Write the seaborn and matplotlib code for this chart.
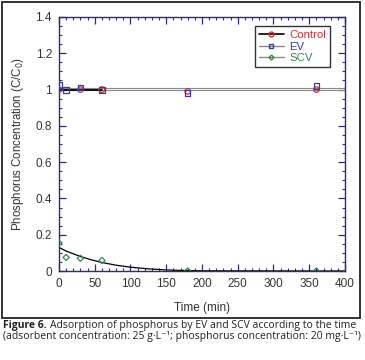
import numpy as np
import matplotlib
matplotlib.use("Agg")
import matplotlib.pyplot as plt
import seaborn as sns
from matplotlib.lines import Line2D
from matplotlib.patches import Rectangle

# measured points
control_t = [0, 30, 60, 180, 360]
control_c = [1.0, 1.0, 1.0, 0.99, 1.0]
ev_t = [0, 10, 30, 60, 180, 360]
ev_c = [1.025, 0.997, 1.012, 0.997, 0.98, 1.02]
scv_t = [0, 10, 30, 60, 180, 360]
scv_c = [0.155, 0.075, 0.07, 0.058, 0.0, 0.0]

# fitted curves
ctrl_fit_t = [0, 60]
ctrl_fit_c = [1.0, 1.0]
ev_fit_t = [0, 400]
ev_fit_c = [1.008, 1.008]
ev_fit2_c = [0.995, 0.995]
scv_fit_t = [0, 10, 20, 30, 45, 60, 80, 100, 125, 150, 175, 200, 400]
scv_fit_c = [0.13, 0.11, 0.095, 0.08, 0.062, 0.047, 0.032, 0.021, 0.012, 0.006, 0.003, 0.001, 0.0]

sns.set_style("ticks")
plt.rcParams['font.family'] = ['Liberation Sans', 'DejaVu Sans']

navy = '#2b2b80'
red = '#d03030'
blue = '#3a3aa8'
green = '#2f8a55'
txtc = '#333333'

fig = plt.figure(figsize=(3.65, 3.6), dpi=100)
ax = fig.add_axes([0.1616, 0.2472, 0.7836, 0.7056])

sns.lineplot(x=ev_fit_t, y=ev_fit_c, color='#8a8a8a', lw=0.8, ax=ax)
sns.lineplot(x=ev_fit_t, y=ev_fit2_c, color='#8a8a8a', lw=0.8, ax=ax)
sns.lineplot(x=ctrl_fit_t, y=ctrl_fit_c, color='black', lw=1.3, ax=ax)
sns.lineplot(x=scv_fit_t, y=scv_fit_c, color='black', lw=0.9, ax=ax)

sns.scatterplot(x=control_t, y=control_c, marker='o', s=16, facecolors='none',
                edgecolor=red, linewidth=0.9, ax=ax, zorder=3)
sns.scatterplot(x=ev_t, y=ev_c, marker='s', s=16, facecolors='none',
                edgecolor=blue, linewidth=0.9, ax=ax, zorder=3)
sns.scatterplot(x=scv_t, y=scv_c, marker='D', s=10, facecolors='none',
                edgecolor=green, linewidth=0.9, ax=ax, zorder=3)

ax.set_xlim(0, 400)
ax.set_ylim(0, 1.4)
ax.set_xticks(np.arange(0, 401, 50))
ax.set_xticks(np.arange(0, 401, 10), minor=True)
ax.set_yticks([0, 0.2, 0.4, 0.6, 0.8, 1, 1.2, 1.4])
ax.set_yticklabels(['0', '0.2', '0.4', '0.6', '0.8', '1', '1.2', '1.4'])
ax.set_yticks(np.arange(0, 1.401, 0.05), minor=True)
ax.tick_params(which='both', direction='in', top=True, right=True, color=navy,
               labelsize=8.5, labelcolor=txtc, pad=5)
ax.tick_params(which='major', length=5, width=0.9)
ax.tick_params(which='minor', length=2.5, width=0.8)
for s in ax.spines.values():
    s.set_color(navy)
    s.set_linewidth(1.0)

ax.set_xlabel('Time (min)', fontsize=8.5, color=txtc, labelpad=9)
ax.set_ylabel('Phosphorus Concentration (C/C$_0$)', fontsize=8.3, color=txtc, labelpad=7)

handles = [
    Line2D([], [], color='black', lw=1.2, marker='o', ms=3.5, mfc='none', mec=red),
    Line2D([], [], color='#8a8a8a', lw=1.0, marker='s', ms=3.5, mfc='none', mec=blue),
    Line2D([], [], color='#8a8a8a', lw=1.0, marker='D', ms=2.5, mfc='none', mec=green),
]
leg = ax.legend(handles, ['Control', 'EV', 'SCV'], loc='upper right', fontsize=8.2,
                frameon=True, fancybox=False, edgecolor='black', handlelength=2.2,
                handletextpad=0.5, borderpad=0.35, labelspacing=0.1,
                bbox_to_anchor=(0.968, 0.985))
leg.get_frame().set_linewidth(1.0)
for txt, c in zip(leg.get_texts(), [red, blue, green]):
    txt.set_color(c)

# outer frame
fig.patches.append(Rectangle((2 / 365, 1 - 318 / 360), 358 / 365, 316 / 360,
                             transform=fig.transFigure, fill=False,
                             edgecolor='#222222', lw=1.3))

# caption
cap_font = ['Open Sans', 'DejaVu Sans']
cap_size = 7.45
b = fig.text(3 / 365, 1 - 328 / 360, 'Figure 6.', fontsize=cap_size, fontweight='bold',
             family=cap_font, va='baseline', color='#222222')
ax.annotate('Adsorption of phosphorus by EV and SCV according to the time',
            xy=(1, 0), xycoords=b, xytext=(2, 0), textcoords='offset points',
            va='bottom', ha='left', fontsize=cap_size,
            family=cap_font, color='#222222', annotation_clip=False)
fig.text(3 / 365, 1 - 339.5 / 360,
         '(adsorbent concentration: 25 g\u00b7L\u207b\u00b9; '
         'phosphorus concentration: 20 mg\u00b7L\u207b\u00b9)',
         fontsize=cap_size, family=cap_font, va='baseline', color='#222222')

fig.savefig('out.png', dpi=100)
